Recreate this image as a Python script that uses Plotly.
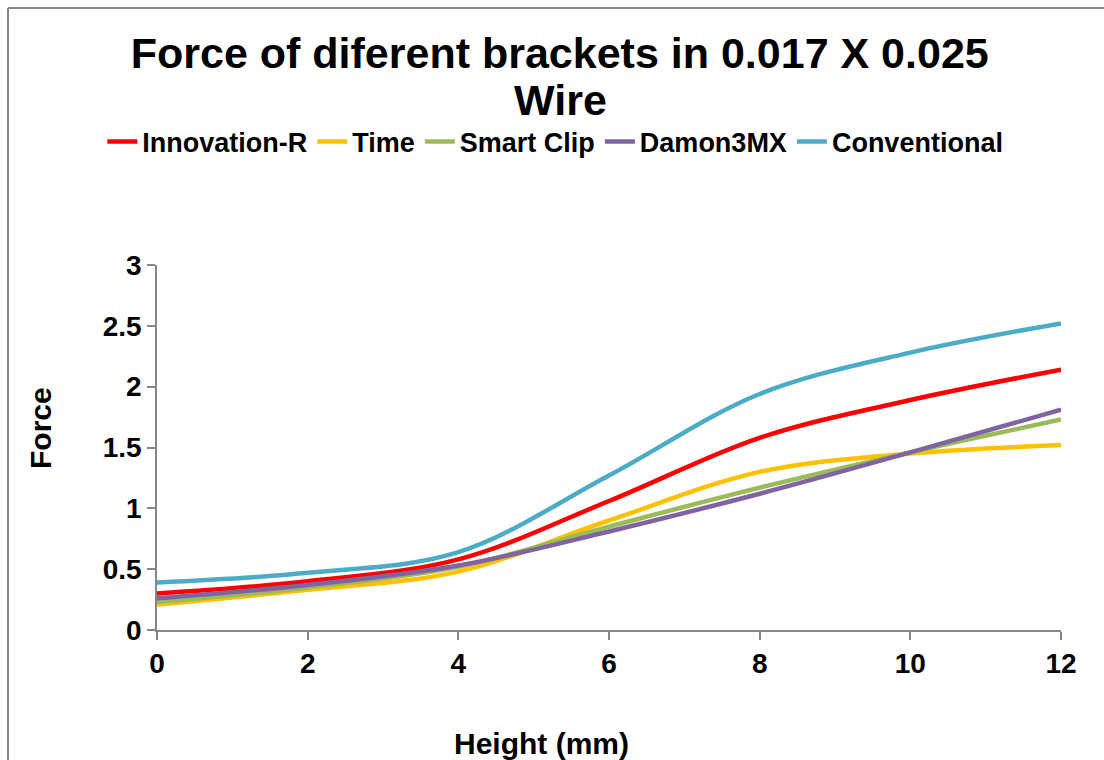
import plotly.graph_objects as go

heights = [0, 2, 4, 6, 8, 10, 12]
series_names = ["Innovation-R", "Time", "Smart Clip", "Damon3MX", "Conventional"]
innovation_r = [0.30, 0.40, 0.58, 1.06, 1.58, 1.89, 2.14]
time_vals = [0.21, 0.33, 0.48, 0.90, 1.30, 1.45, 1.52]
smart_clip = [0.23, 0.35, 0.52, 0.85, 1.17, 1.46, 1.73]
damon3mx = [0.26, 0.37, 0.53, 0.81, 1.12, 1.46, 1.81]
conventional = [0.39, 0.47, 0.64, 1.27, 1.94, 2.28, 2.52]
colors = ["#FF0000", "#FFC000", "#9BBB59", "#8064A2", "#4BACC6"]
x_ticks = [0, 2, 4, 6, 8, 10, 12]
y_ticks = [0, 0.5, 1, 1.5, 2, 2.5, 3]
y_tick_labels = ["0", "0.5", "1", "1.5", "2", "2.5", "3"]

W, H = 1104, 760
ML, MR, MT, MB = 157, 43, 265, 130
PW, PH = W - ML - MR, H - MT - MB

def px_to_paper_x(px):
    return (px - ML) / PW

def px_to_paper_y(py):
    return (H - MB - py) / PH

FONT = "Liberation Sans, Arial, sans-serif"

fig = go.Figure()
for name, vals, col in zip(series_names,
                           [innovation_r, time_vals, smart_clip, damon3mx, conventional],
                           colors):
    fig.add_trace(go.Scatter(x=heights, y=vals, name=name, mode="lines",
                             line=dict(color=col, width=4.5, shape="spline", smoothing=1.0)))

fig.update_layout(
    width=W, height=H,
    margin=dict(l=ML, r=MR, t=MT, b=MB),
    paper_bgcolor="white", plot_bgcolor="white",
    font=dict(family=FONT, color="black"),
    title=dict(text="<b>Force of diferent brackets in 0.017 X 0.025</b>",
               x=0.507, xref="container", xanchor="center",
               y=1 - 53 / H, yref="container", yanchor="middle",
               font=dict(size=43, family=FONT, color="black")),
    legend=dict(orientation="h", x=0.503, xref="container", xanchor="center",
                y=1 - 142 / H, yref="container", yanchor="middle",
                font=dict(size=27, family=FONT, color="black", weight="bold"),
                bgcolor="rgba(0,0,0,0)"),
    showlegend=True,
)

axis_common = dict(showline=True, linecolor="#868686", linewidth=1.5,
                   ticks="outside", ticklen=8, tickwidth=1.5, tickcolor="#868686",
                   showgrid=False, zeroline=False,
                   tickfont=dict(size=28, family=FONT, color="black", weight="bold"))

fig.update_xaxes(range=[0, 12], tickvals=x_ticks, **axis_common)
fig.update_yaxes(range=[0, 3], tickvals=y_ticks, ticktext=y_tick_labels, **axis_common)

fig.add_annotation(text="<b>Wire</b>", xref="paper", yref="paper",
                   x=px_to_paper_x(560), y=px_to_paper_y(100),
                   xanchor="center", yanchor="middle", showarrow=False,
                   font=dict(size=43, family=FONT, color="black"))
fig.add_annotation(text="<b>Height (mm)</b>", xref="paper", yref="paper",
                   x=px_to_paper_x(541), y=px_to_paper_y(743),
                   xanchor="center", yanchor="middle", showarrow=False,
                   font=dict(size=30, family=FONT, color="black"))
fig.add_annotation(text="<b>Force</b>", xref="paper", yref="paper",
                   x=px_to_paper_x(40), y=px_to_paper_y(428),
                   xanchor="center", yanchor="middle", showarrow=False, textangle=-90,
                   font=dict(size=30, family=FONT, color="black"))

# chart-area border (top and left edges visible in the reference)
fig.add_shape(type="line", xref="paper", yref="paper",
              x0=px_to_paper_x(8), x1=px_to_paper_x(W + 5),
              y0=px_to_paper_y(8), y1=px_to_paper_y(8),
              line=dict(color="#868686", width=2), layer="below")
fig.add_shape(type="line", xref="paper", yref="paper",
              x0=px_to_paper_x(8), x1=px_to_paper_x(8),
              y0=px_to_paper_y(8), y1=px_to_paper_y(H + 5),
              line=dict(color="#868686", width=2), layer="below")

fig.write_html("out.html")
